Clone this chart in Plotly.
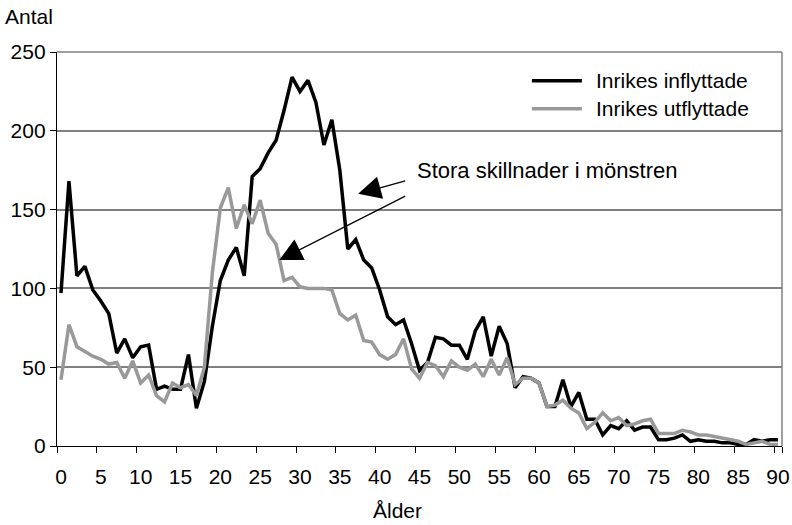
import plotly.graph_objects as go

alder = list(range(91))

inflyttade = [97, 168, 108, 114, 99, 92, 84, 59, 68, 56,
              63, 64, 36, 38, 36, 36, 58, 24, 41, 76,
              105, 118, 126, 108, 171, 176, 186, 194, 213, 234,
              225, 232, 218, 191, 207, 175, 125, 131, 118, 113,
              99, 82, 77, 80, 65, 48, 53, 69, 68, 64,
              64, 55, 73, 82, 57, 76, 65, 37, 44, 43,
              40, 25, 25, 42, 25, 34, 17, 17, 7, 13,
              11, 16, 10, 12, 12, 4, 4, 5, 7, 3,
              4, 3, 3, 2, 2, 1, 1, 4, 3, 4, 4]

utflyttade = [42, 77, 63, 60, 57, 55, 52, 53, 43, 54,
              40, 45, 32, 28, 40, 37, 39, 32, 50, 110,
              151, 164, 138, 153, 141, 156, 135, 128, 105, 107,
              101, 100, 100, 100, 99, 84, 80, 83, 67, 66,
              58, 55, 58, 68, 49, 43, 53, 51, 44, 54,
              50, 48, 52, 44, 55, 45, 56, 39, 43, 43,
              40, 25, 26, 29, 24, 21, 11, 15, 21, 16,
              18, 13, 14, 16, 17, 8, 8, 8, 10, 9,
              7, 7, 6, 5, 4, 3, 1, 2, 3, 1, 1]

serie_namn = ["Inrikes inflyttade", "Inrikes utflyttade"]
serie_farg = ["#000000", "#999999"]

x_etiketter = list(range(0, 91, 5))
y_etiketter = list(range(0, 251, 50))

FONT = "Arial, Liberation Sans, sans-serif"

fig = go.Figure()
for namn, farg, varden in zip(serie_namn, serie_farg, [inflyttade, utflyttade]):
    fig.add_trace(go.Scatter(x=alder, y=varden, name=namn, mode="lines",
                             line=dict(color=farg, width=3.5), showlegend=False))

# egen förklaring (legend) uppe till höger
for i, (namn, farg) in enumerate(zip(serie_namn, serie_farg)):
    yy = 0.927 - i * 0.071
    fig.add_shape(type="line", xref="paper", yref="paper",
                  x0=0.655, x1=0.724, y0=yy, y1=yy,
                  line=dict(color=farg, width=3.5))
    fig.add_annotation(xref="paper", yref="paper", x=0.74, y=yy, text=namn,
                       showarrow=False, xanchor="left", yanchor="middle",
                       font=dict(size=21, color="black", family=FONT))

# ram upptill och till höger
fig.add_shape(type="line", xref="paper", yref="paper", x0=0, x1=1, y0=1, y1=1,
              line=dict(color="#808080", width=1.5))
fig.add_shape(type="line", xref="paper", yref="paper", x0=1, x1=1, y0=0, y1=1,
              line=dict(color="#808080", width=1.5))

fig.add_annotation(x=44.4, y=175, text="Stora skillnader i mönstren", showarrow=False,
                   xanchor="left", yanchor="middle",
                   font=dict(size=22, color="black", family=FONT))
fig.add_annotation(x=37.3, y=160, ax=43.4, ay=168.5, axref="x", ayref="y",
                   text="", showarrow=True, arrowhead=2, arrowsize=3.5,
                   arrowwidth=1.3, arrowcolor="black")
fig.add_annotation(x=27.4, y=118, ax=43.4, ay=159, axref="x", ayref="y",
                   text="", showarrow=True, arrowhead=2, arrowsize=3.5,
                   arrowwidth=1.3, arrowcolor="black")

fig.add_annotation(xref="paper", yref="paper", x=-0.074, y=1.089, text="Antal",
                   showarrow=False, xanchor="left", yanchor="middle",
                   font=dict(size=21, color="black", family=FONT))
fig.add_annotation(xref="paper", yref="paper", x=0.47, y=-0.163, text="Ålder",
                   showarrow=False, xanchor="center", yanchor="middle",
                   font=dict(size=21, color="black", family=FONT))

fig.update_xaxes(range=[-0.5, 90.5], tickvals=x_etiketter, ticks="",
                 showgrid=False, zeroline=False, showline=True, automargin=False,
                 linecolor="black", linewidth=1.3, ticklabelstandoff=12,
                 tickfont=dict(size=21, color="black", family=FONT),
                 minor=dict(tickvals=[v - 0.5 for v in x_etiketter] + [90.5],
                            ticks="outside", ticklen=6, tickcolor="black",
                            showgrid=False))
fig.update_yaxes(range=[0, 250], tickvals=y_etiketter, ticks="outside",
                 ticklen=6, tickcolor="black", showgrid=True, automargin=False,
                 gridcolor="#808080", gridwidth=1.5, zeroline=False,
                 showline=True, linecolor="black", linewidth=1.3,
                 tickfont=dict(size=21, color="black", family=FONT))

fig.update_layout(width=792, height=525, plot_bgcolor="white",
                  paper_bgcolor="white",
                  margin=dict(l=57, r=10, t=52, b=79))

fig.write_html("out.html", config={"displayModeBar": False},
               post_script="document.body.style.margin='0';")
